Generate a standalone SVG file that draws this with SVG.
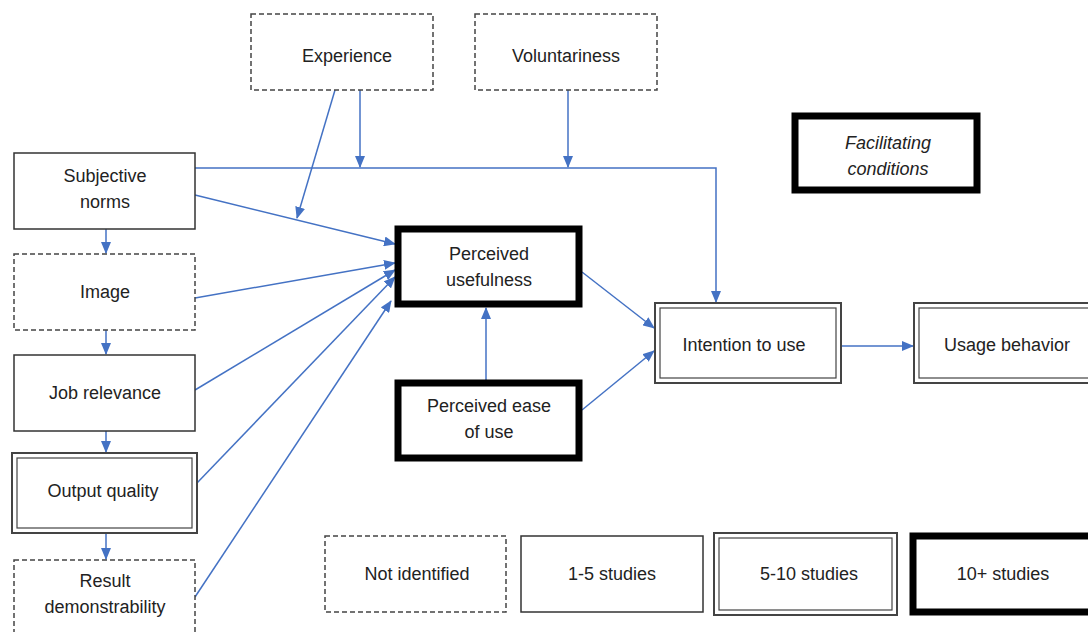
<svg xmlns="http://www.w3.org/2000/svg" width="1088" height="632" viewBox="0 0 1088 632">
<defs>
<marker id="arr" markerWidth="12" markerHeight="10" refX="11" refY="5" orient="auto" markerUnits="userSpaceOnUse">
<path d="M0,0 L12,5 L0,10 Z" fill="#4472C4"/>
</marker>
<style>
text{font-family:"Liberation Sans",Arial,sans-serif;font-size:18px;fill:#222;text-anchor:middle}
.it{font-style:italic}
.dash{fill:#fff;stroke:#444;stroke-width:1.5;stroke-dasharray:5,3}
.solid{fill:#fff;stroke:#333;stroke-width:1.5}
.dblo{fill:#fff;stroke:#444;stroke-width:2}
.dbli{fill:none;stroke:#444;stroke-width:1.2}
.thick{fill:#fff;stroke:#000;stroke-width:7}
.c{fill:none;stroke:#4472C4;stroke-width:1.5}
</style>
</defs>
<rect width="1088" height="632" fill="#fff"/>
<g id="connectors">
<polyline class="c" points="195,168 716,168 716,302" marker-end="url(#arr)"/>
<line class="c" x1="360" y1="90" x2="360" y2="167" marker-end="url(#arr)"/>
<line class="c" x1="568" y1="90" x2="568" y2="167" marker-end="url(#arr)"/>
<line class="c" x1="335" y1="90" x2="297" y2="218" marker-end="url(#arr)"/>
<line class="c" x1="195" y1="195" x2="395" y2="244" marker-end="url(#arr)"/>
<line class="c" x1="195" y1="298" x2="395" y2="263" marker-end="url(#arr)"/>
<line class="c" x1="195" y1="390" x2="395" y2="270" marker-end="url(#arr)"/>
<line class="c" x1="197" y1="483" x2="395" y2="277" marker-end="url(#arr)"/>
<line class="c" x1="195" y1="597" x2="391" y2="301" marker-end="url(#arr)"/>
<line class="c" x1="106" y1="229" x2="106" y2="253" marker-end="url(#arr)"/>
<line class="c" x1="106" y1="330" x2="106" y2="354" marker-end="url(#arr)"/>
<line class="c" x1="106" y1="431" x2="106" y2="452" marker-end="url(#arr)"/>
<line class="c" x1="106" y1="533" x2="106" y2="559" marker-end="url(#arr)"/>
<line class="c" x1="486" y1="380" x2="486" y2="308" marker-end="url(#arr)"/>
<line class="c" x1="582" y1="272" x2="654" y2="328" marker-end="url(#arr)"/>
<line class="c" x1="582" y1="410" x2="654" y2="351" marker-end="url(#arr)"/>
<line class="c" x1="841" y1="346" x2="913" y2="346" marker-end="url(#arr)"/>
</g>
<g id="experience"><rect class="dash" x="251" y="14" width="182" height="76"/><text x="347" y="62">Experience</text></g>
<g id="voluntariness"><rect class="dash" x="475" y="14" width="182" height="76"/><text x="566" y="62">Voluntariness</text></g>
<g id="facilitating"><rect class="thick" x="795" y="116" width="182" height="74"/><text class="it" x="888" y="149">Facilitating</text><text class="it" x="888" y="175">conditions</text></g>
<g id="subjective-norms"><rect class="solid" x="14" y="153" width="181" height="76"/><text x="105" y="182">Subjective</text><text x="105" y="208">norms</text></g>
<g id="image"><rect class="dash" x="14" y="254" width="181" height="76"/><text x="105" y="298">Image</text></g>
<g id="job-relevance"><rect class="solid" x="14" y="355" width="181" height="76"/><text x="105" y="399">Job relevance</text></g>
<g id="output-quality"><rect class="dblo" x="12" y="453" width="185" height="80"/><rect class="dbli" x="17" y="458" width="175" height="70"/><text x="103" y="497">Output quality</text></g>
<g id="result-demonstrability"><rect class="dash" x="14" y="560" width="181" height="80"/><text x="105" y="587">Result</text><text x="105" y="613">demonstrability</text></g>
<g id="perceived-usefulness"><rect class="thick" x="398" y="229" width="181" height="75"/><text x="489" y="260">Perceived</text><text x="489" y="286">usefulness</text></g>
<g id="perceived-ease"><rect class="thick" x="398" y="383" width="181" height="75"/><text x="489" y="412">Perceived ease</text><text x="489" y="438">of use</text></g>
<g id="intention"><rect class="dblo" x="655" y="303" width="186" height="80"/><rect class="dbli" x="660" y="308" width="176" height="70"/><text x="744" y="351">Intention to use</text></g>
<g id="usage"><rect class="dblo" x="914" y="303" width="186" height="80"/><rect class="dbli" x="919" y="308" width="176" height="70"/><text x="1007" y="351">Usage behavior</text></g>
<g id="legend-not-identified"><rect class="dash" x="325" y="536" width="181" height="76"/><text x="417" y="580">Not identified</text></g>
<g id="legend-1-5"><rect class="solid" x="521" y="536" width="182" height="76"/><text x="612" y="580">1-5 studies</text></g>
<g id="legend-5-10"><rect class="dblo" x="714" y="533" width="183" height="82"/><rect class="dbli" x="719" y="538" width="173" height="72"/><text x="809" y="580">5-10 studies</text></g>
<g id="legend-10"><rect class="thick" x="913" y="536" width="182" height="76"/><text x="1003" y="580">10+ studies</text></g>
</svg>
